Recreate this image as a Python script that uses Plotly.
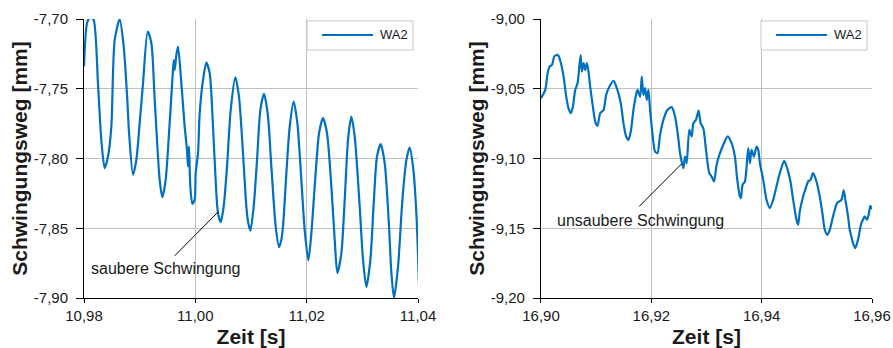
import plotly.graph_objects as go

# ---- data ----
t_left = [10.98000, 10.98054, 10.98114, 10.98174, 10.98251, 10.98311, 10.98371, 10.98431, 10.98491, 10.98551,
          10.98641, 10.98713, 10.98778, 10.98808, 10.98880, 10.98940, 10.99000, 10.99060, 10.99144, 10.99210,
          10.99270, 10.99359, 10.99407, 10.99467, 10.99527, 10.99587, 10.99611, 10.99629, 10.99659, 10.99689,
          10.99749, 10.99808, 10.99850, 10.99868, 10.99886, 10.99910, 10.99946, 10.99988, 11.00006, 11.00048,
          11.00078, 11.00138, 11.00198, 11.00258, 11.00317, 11.00377, 11.00407, 11.00455, 11.00509, 11.00569,
          11.00635, 11.00719, 11.00784, 11.00856, 11.00916, 11.00946, 11.00988, 11.01048, 11.01108, 11.01168,
          11.01234, 11.01305, 11.01365, 11.01443, 11.01503, 11.01545, 11.01575, 11.01635, 11.01695, 11.01766,
          11.01832, 11.01904, 11.01964, 11.02030, 11.02084, 11.02144, 11.02222, 11.02293, 11.02365, 11.02443,
          11.02503, 11.02551, 11.02623, 11.02683, 11.02742, 11.02802, 11.02862, 11.02952, 11.03012, 11.03072,
          11.03144, 11.03204, 11.03263, 11.03329, 11.03401, 11.03479, 11.03521, 11.03569, 11.03641, 11.03719,
          11.03791, 11.03850, 11.03910, 11.03970, 11.04018]
wa2_left = [-7.7341, -7.7031, -7.6983, -7.7007, -7.7461, -7.7866, -7.8069, -7.7986, -7.7771, -7.7150,
            -7.7002, -7.7198, -7.7580, -7.7807, -7.8117, -7.8010, -7.7747, -7.7461, -7.7091, -7.7174,
            -7.7580, -7.8153, -7.8277, -7.8153, -7.7819, -7.7437, -7.7294, -7.7365, -7.7258, -7.7198,
            -7.7461, -7.7771, -7.7938, -7.8057, -7.7914, -7.8200, -7.8325, -7.8296, -7.8105, -7.7962,
            -7.7675, -7.7437, -7.7313, -7.7389, -7.7771, -7.8248, -7.8391, -7.8456, -7.8344, -7.8057,
            -7.7652, -7.7418, -7.7556, -7.7962, -7.8344, -7.8451, -7.8518, -7.8344, -7.8010, -7.7652,
            -7.7537, -7.7699, -7.8057, -7.8487, -7.8635, -7.8582, -7.8487, -7.8105, -7.7771, -7.7592,
            -7.7747, -7.8153, -7.8511, -7.8730, -7.8535, -7.8200, -7.7819, -7.7711, -7.7819, -7.8200,
            -7.8582, -7.8821, -7.8678, -7.8296, -7.7866, -7.7699, -7.7842, -7.8344, -7.8726, -7.8921,
            -7.8726, -7.8320, -7.7986, -7.7897, -7.8033, -7.8487, -7.8821, -7.9000, -7.8773, -7.8296,
            -7.8010, -7.7921, -7.8057, -7.8391, -7.8916]

t_right = [16.90000, 16.90078, 16.90121, 16.90157, 16.90199, 16.90241, 16.90277, 16.90320, 16.90362, 16.90410,
           16.90458, 16.90500, 16.90543, 16.90579, 16.90621, 16.90663, 16.90718, 16.90742, 16.90772, 16.90802,
           16.90832, 16.90862, 16.90892, 16.90941, 16.90983, 16.91025, 16.91073, 16.91134, 16.91182, 16.91242,
           16.91315, 16.91375, 16.91447, 16.91495, 16.91544, 16.91586, 16.91628, 16.91676, 16.91706, 16.91749,
           16.91797, 16.91827, 16.91857, 16.91887, 16.91918, 16.91948, 16.91978, 16.92020, 16.92068, 16.92111,
           16.92159, 16.92219, 16.92291, 16.92370, 16.92430, 16.92478, 16.92521, 16.92581, 16.92611, 16.92641,
           16.92689, 16.92732, 16.92762, 16.92810, 16.92858, 16.92894, 16.92943, 16.92991, 16.93051, 16.93093,
           16.93136, 16.93184, 16.93244, 16.93317, 16.93383, 16.93455, 16.93515, 16.93558, 16.93606, 16.93624,
           16.93654, 16.93696, 16.93727, 16.93757, 16.93787, 16.93817, 16.93859, 16.93907, 16.93938, 16.93968,
           16.94028, 16.94088, 16.94148, 16.94209, 16.94269, 16.94329, 16.94408, 16.94462, 16.94522, 16.94571,
           16.94631, 16.94661, 16.94691, 16.94751, 16.94800, 16.94842, 16.94884, 16.94932, 16.94993, 16.95053,
           16.95101, 16.95144, 16.95192, 16.95234, 16.95294, 16.95367, 16.95445, 16.95487, 16.95523, 16.95566,
           16.95596, 16.95626, 16.95656, 16.95698, 16.95746, 16.95807, 16.95837, 16.95867, 16.95909, 16.95945,
           16.95970, 16.96000]
wa2_right = [-9.0568, -9.0508, -9.0389, -9.0341, -9.0329, -9.0270, -9.0258, -9.0265, -9.0317, -9.0413,
             -9.0556, -9.0640, -9.0675, -9.0628, -9.0508, -9.0461, -9.0258, -9.0377, -9.0317, -9.0365,
             -9.0317, -9.0377, -9.0484, -9.0628, -9.0735, -9.0766, -9.0675, -9.0652, -9.0544, -9.0484,
             -9.0444, -9.0496, -9.0604, -9.0747, -9.0842, -9.0866, -9.0807, -9.0652, -9.0580, -9.0508,
             -9.0556, -9.0413, -9.0544, -9.0496, -9.0580, -9.0508, -9.0652, -9.0819, -9.0950, -9.0962,
             -9.0831, -9.0723, -9.0652, -9.0632, -9.0699, -9.0819, -9.0962, -9.1069, -9.0986, -9.1033,
             -9.0795, -9.0842, -9.0747, -9.0723, -9.0656, -9.0747, -9.0783, -9.0938, -9.1105, -9.1129,
             -9.1165, -9.1045, -9.0962, -9.0890, -9.0842, -9.0890, -9.0986, -9.1153, -9.1272, -9.1284,
             -9.1189, -9.1165, -9.1057, -9.0926, -9.1033, -9.0938, -9.0986, -9.0914, -9.0938, -9.1033,
             -9.1153, -9.1296, -9.1356, -9.1296, -9.1200, -9.1105, -9.1017, -9.1069, -9.1165, -9.1296,
             -9.1439, -9.1475, -9.1379, -9.1272, -9.1212, -9.1165, -9.1153, -9.1105, -9.1165, -9.1272,
             -9.1391, -9.1511, -9.1547, -9.1511, -9.1415, -9.1320, -9.1296, -9.1229, -9.1308, -9.1415,
             -9.1511, -9.1558, -9.1606, -9.1642, -9.1582, -9.1463, -9.1439, -9.1415, -9.1439, -9.1391,
             -9.1339, -9.1363]

x_left_ticks = [10.98, 11.00, 11.02, 11.04]
x_left_labels = ["10,98", "11,00", "11,02", "11,04"]
y_left_ticks = [-7.90, -7.85, -7.80, -7.75, -7.70]
y_left_labels = ["-7,90", "-7,85", "-7,80", "-7,75", "-7,70"]
x_right_ticks = [16.90, 16.92, 16.94, 16.96]
x_right_labels = ["16,90", "16,92", "16,94", "16,96"]
y_right_ticks = [-9.20, -9.15, -9.10, -9.05, -9.00]
y_right_labels = ["-9,20", "-9,15", "-9,10", "-9,05", "-9,00"]

series_name = "WA2"
label_left = "saubere Schwingung"
label_right = "unsaubere Schwingung"
x_title = "Zeit [s]"
y_title = "Schwingungsweg [mm]"

# ---- figure ----
FONT = "Liberation Sans, Arial, sans-serif"
BLUE = "#0070C0"
GRID = "#BFBFBF"
TXT = "#1a1a1a"

fig = go.Figure()
fig.add_trace(go.Scatter(x=t_left, y=wa2_left, mode="lines", name=series_name, showlegend=False,
                         line=dict(color=BLUE, width=2.2, shape="spline", smoothing=0.7),
                         xaxis="x", yaxis="y"))
fig.add_trace(go.Scatter(x=t_right, y=wa2_right, mode="lines", name=series_name, showlegend=False,
                         line=dict(color=BLUE, width=2.2, shape="spline", smoothing=0.7),
                         xaxis="x2", yaxis="y2"))

axis_common = dict(showgrid=True, gridcolor=GRID, gridwidth=1, showline=True, linecolor="black",
                   linewidth=1, ticks="outside", tickcolor="black", zeroline=False, automargin=False,
                   tickfont=dict(family=FONT, size=15, color=TXT))
title_font = dict(family=FONT, size=21, color=TXT)

fig.update_layout(
    width=893, height=348,
    margin=dict(l=84, r=21, t=19, b=50),
    paper_bgcolor="white", plot_bgcolor="white",
    showlegend=False,
    xaxis=dict(domain=[0, 0.4239], range=[10.98, 11.04], tickvals=x_left_ticks, ticktext=x_left_labels,
               anchor="y", ticklen=4, ticklabelstandoff=0,
               title=dict(text="<b>" + x_title + "</b>", font=title_font, standoff=6), **axis_common),
    yaxis=dict(domain=[0, 1], range=[-7.90, -7.70], tickvals=y_left_ticks, ticktext=y_left_labels,
               anchor="x", ticklen=7, ticklabelstandoff=5,
               title=dict(text="<b>" + y_title + "</b>", font=title_font, standoff=0), **axis_common),
    xaxis2=dict(domain=[0.5799, 1], range=[16.90, 16.96], tickvals=x_right_ticks, ticktext=x_right_labels,
                anchor="y2", ticklen=4, ticklabelstandoff=0,
                title=dict(text="<b>" + x_title + "</b>", font=title_font, standoff=6), **axis_common),
    yaxis2=dict(domain=[0, 1], range=[-9.20, -9.00], tickvals=y_right_ticks, ticktext=y_right_labels,
                anchor="x2", ticklen=7, ticklabelstandoff=5,
                title=dict(text="<b>" + y_title + "</b>", font=title_font, standoff=0), **axis_common),
)

# legend boxes (one per panel), drawn as shapes + text
for bx0, bx1, lx0, lx1, tx in [(0.2830, 0.4175, 0.3020, 0.3668, 0.3731),
                               (0.8591, 0.9937, 0.8782, 0.9429, 0.9492)]:
    fig.add_shape(type="rect", xref="paper", yref="paper", x0=bx0, x1=bx1, y0=0.8889, y1=0.9928,
                  line=dict(color="#C8C8C8", width=1), fillcolor="white", layer="above")
    fig.add_shape(type="line", xref="paper", yref="paper", x0=lx0, x1=lx1, y0=0.9427, y1=0.9427,
                  line=dict(color=BLUE, width=2), layer="above")
    fig.add_annotation(xref="paper", yref="paper", x=tx, y=0.9427, xanchor="left", yanchor="middle",
                       text=series_name, showarrow=False, font=dict(family=FONT, size=13, color=TXT))

fig.add_annotation(x=10.99467, y=-7.8792, xref="x", yref="y", text=label_left, showarrow=False,
                   font=dict(family=FONT, size=16, color=TXT))
fig.add_shape(type="line", xref="x", yref="y", x0=10.99629, y0=-7.8697, x1=11.00407, y1=-7.8384,
              line=dict(color="black", width=1))
fig.add_annotation(x=16.91809, y=-9.1444, xref="x2", yref="y2", text=label_right, showarrow=False,
                   font=dict(family=FONT, size=16, color=TXT))
fig.add_shape(type="line", xref="x2", yref="y2", x0=16.91779, y0=-9.1344, x1=16.92551, y1=-9.1038,
              line=dict(color="black", width=1))

fig.write_html("out.html", config={"displayModeBar": False},
               post_script="document.body.style.margin='0';")
